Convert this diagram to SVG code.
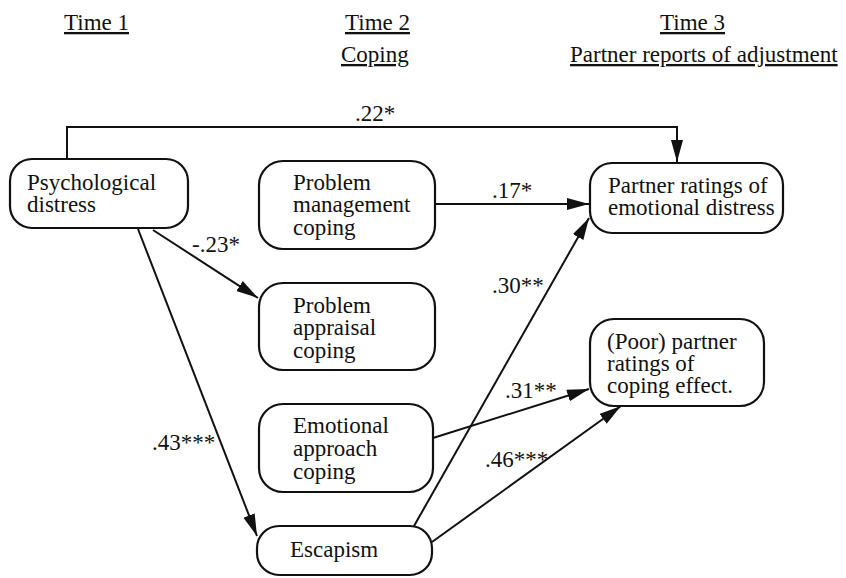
<svg xmlns="http://www.w3.org/2000/svg" width="846" height="578" viewBox="0 0 846 578">
<defs>
<marker id="arr" markerUnits="userSpaceOnUse" markerWidth="24" markerHeight="14" refX="22" refY="6" orient="auto">
<path d="M0,0 L22,6 L0,12 Z" fill="#111"/>
</marker>
<style>
text{font-family:'Liberation Serif','Times New Roman',serif;font-size:23px;fill:#111}
.hd{text-decoration:underline}
.box{fill:#fff;stroke:#111;stroke-width:2.2}
.edge{fill:none;stroke:#111;stroke-width:2}
.arr{marker-end:url(#arr)}
</style>
</defs>
<rect width="846" height="578" fill="#fff"/>
<g id="headers">
<text class="hd" x="64" y="30">Time 1</text>
<text class="hd" x="345" y="30">Time 2</text>
<text class="hd" x="341" y="62">Coping</text>
<text class="hd" x="660" y="30">Time 3</text>
<text class="hd" x="570" y="62">Partner reports of adjustment</text>
</g>
<g id="connectors">
<path class="edge arr" d="M67,159 V127 H677 V162"/>
<path class="edge arr" d="M435,204 H589"/>
<path class="edge arr" d="M153,230 L258,298"/>
<path class="edge arr" d="M138,229 L257,536"/>
<path class="edge arr" d="M414,526 L589,218"/>
<path class="edge arr" d="M433,438 L589,389"/>
<path class="edge arr" d="M432,542 L621,406"/>
<text x="355" y="121">.22*</text>
<text x="492" y="198">.17*</text>
<text x="192" y="252">-.23*</text>
<text x="492" y="293">.30**</text>
<text x="152" y="450">.43***</text>
<text x="505" y="398">.31**</text>
<text x="485" y="467">.46***</text>
</g>
<g id="psych">
<rect class="box" x="10" y="159" width="178" height="69" rx="22"/>
<text x="27" y="190">Psychological</text>
<text x="27" y="212">distress</text>
</g>
<g id="probman">
<rect class="box" x="259" y="161" width="176" height="88" rx="24"/>
<text x="293" y="190">Problem</text>
<text x="293" y="212">management</text>
<text x="293" y="235">coping</text>
</g>
<g id="probapp">
<rect class="box" x="259" y="283" width="176" height="87" rx="24"/>
<text x="293" y="313">Problem</text>
<text x="293" y="335">appraisal</text>
<text x="293" y="358">coping</text>
</g>
<g id="emoapp">
<rect class="box" x="259" y="404" width="174" height="88" rx="24"/>
<text x="293" y="433">Emotional</text>
<text x="293" y="456">approach</text>
<text x="293" y="479">coping</text>
</g>
<g id="escapism">
<rect class="box" x="257" y="526" width="175" height="49" rx="22"/>
<text x="290" y="557">Escapism</text>
</g>
<g id="emodistress">
<rect class="box" x="590" y="163" width="193" height="70" rx="22"/>
<text x="608" y="193">Partner ratings of</text>
<text x="608" y="215">emotional distress</text>
</g>
<g id="copeffect">
<rect class="box" x="590" y="319" width="174" height="87" rx="24"/>
<text x="607" y="349">(Poor) partner</text>
<text x="607" y="371">ratings of</text>
<text x="607" y="393">coping effect.</text>
</g>
</svg>
